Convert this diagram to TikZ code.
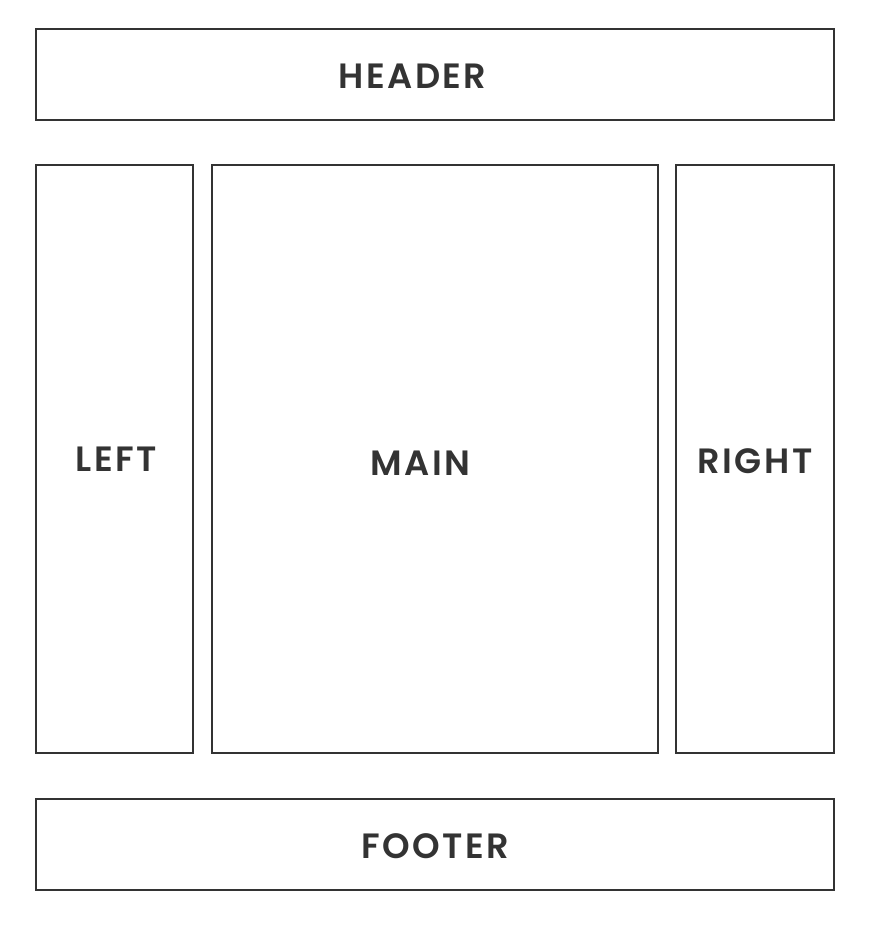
\documentclass[tikz,border=0pt]{standalone}
\usepackage{fontspec}
\setmainfont{Poppins}[BoldFont={Poppins SemiBold}, LetterSpace=7]
\usepackage{tikz}
\usetikzlibrary{positioning}

\definecolor{edge}{HTML}{333333}

\begin{document}
\begin{tikzpicture}[
  font=\fontsize{20}{24}\selectfont\bfseries,
  box/.style={draw=edge, line width=1.1pt, inner sep=0pt, outer sep=0pt},
  lbl/.style={text=edge, inner sep=0pt}
]
\useasboundingbox (0,0) rectangle (17.68,-19.04);
% top band
\node[box, minimum width=15.96cm, minimum height=1.82cm,
      label={[lbl, xshift=-0.45cm, yshift=-0.03cm]center:HEADER}] (header) at (8.70,-1.49) {};
% three columns
\node[box, minimum width=3.14cm, minimum height=11.76cm,
      below right=0.9cm and 0cm of header.south west,
      label={[lbl, xshift=0.03cm]center:LEFT}] (left) {};
\node[box, minimum width=8.92cm, minimum height=11.76cm, right=0.38cm of left,
      label={[lbl, xshift=-0.29cm, yshift=-0.08cm]center:MAIN}] (main) {};
\node[box, minimum width=3.16cm, minimum height=11.76cm, right=0.36cm of main,
      label={[lbl, yshift=-0.04cm]center:RIGHT}] (right) {};
% bottom band
\node[box, minimum width=15.96cm, minimum height=1.82cm,
      below right=0.92cm and 0cm of left.south west,
      label={[lbl, yshift=-0.03cm]center:FOOTER}] (footer) {};
\end{tikzpicture}
\end{document}
